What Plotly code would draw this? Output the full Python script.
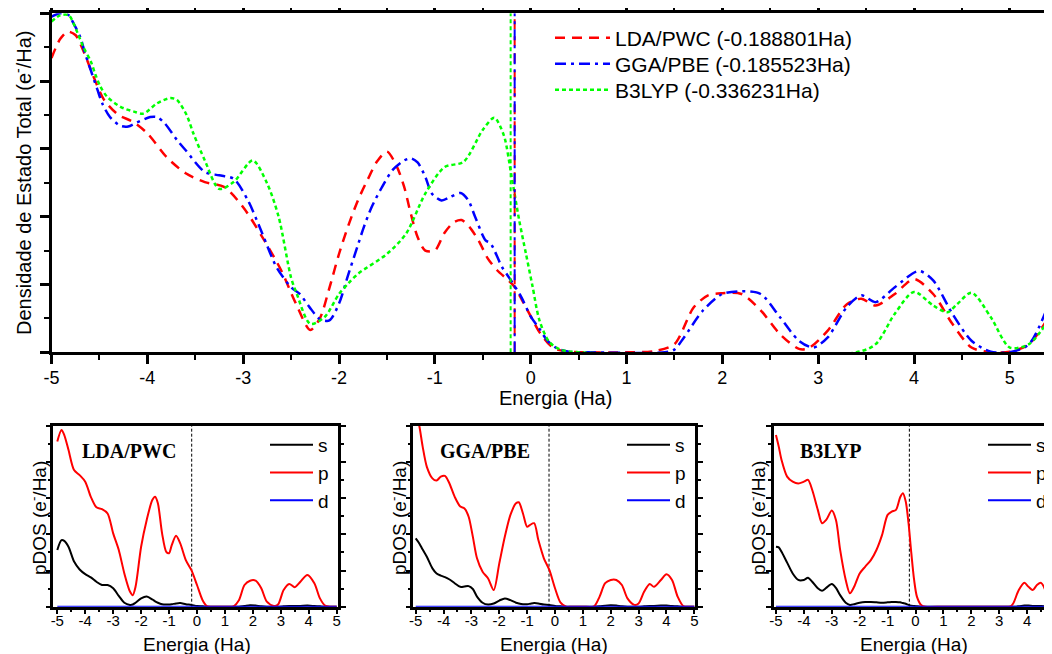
import plotly.graph_objects as go

# page offset of the figure inside the browser body (default body margin)
OFF = 8
PAGE_W, PAGE_H = 1052, 654
W, H = PAGE_W - OFF, PAGE_H - OFF

# ---------------- main plot: total DOS ----------------
E_LDA = [-5.0, -4.91, -4.83, -4.75, -4.66, -4.56, -4.45, -4.3, -4.15, -4.0, -3.8, -3.6, -3.4, -3.2,
         -3.0, -2.8, -2.6, -2.45, -2.3, -2.2, -2.1, -2.0, -1.9, -1.8, -1.7, -1.6, -1.5, -1.4, -1.32,
         -1.25, -1.18, -1.1, -1.0, -0.9, -0.8, -0.72, -0.64, -0.54, -0.45, -0.35, -0.24, -0.17, -0.09,
         0.02, 0.1, 0.24, 0.4, 0.6, 1.0, 1.3, 1.5, 1.7, 1.85, 2.0, 2.2, 2.4, 2.6, 2.8, 2.9, 3.1, 3.3,
         3.45, 3.6, 3.8, 4.0, 4.2, 4.4, 4.6, 4.8, 5.0, 5.2, 5.44]
DOS_LDA = [4.34, 4.62, 4.73, 4.68, 4.42, 4.06, 3.72, 3.50, 3.40, 3.23, 2.88, 2.64, 2.51, 2.44,
           2.14, 1.70, 1.20, 0.72, 0.33, 0.50, 0.95, 1.45, 1.88, 2.25, 2.55, 2.82, 2.96, 2.75, 2.44,
           2.04, 1.70, 1.50, 1.50, 1.76, 1.92, 1.95, 1.85, 1.64, 1.39, 1.21, 1.07, 0.97, 0.77,
           0.48, 0.28, 0.06, 0.01, 0.0, 0.0, 0.02, 0.12, 0.66, 0.84, 0.87, 0.86, 0.62, 0.27, 0.05, 0.06,
           0.32, 0.71, 0.79, 0.69, 0.86, 1.08, 0.86, 0.42, 0.07, 0.0, 0.01, 0.12, 0.60]

E_GGA = [-5.0, -4.91, -4.82, -4.77, -4.70, -4.65, -4.59, -4.52, -4.47, -4.39, -4.28, -4.2, -4.11,
         -3.97, -3.9, -3.82, -3.69, -3.6, -3.4, -3.25, -3.1, -2.95, -2.8, -2.65, -2.5, -2.41, -2.31,
         -2.2, -2.1, -2.0, -1.9, -1.81, -1.74, -1.66, -1.55, -1.44, -1.32, -1.25, -1.18, -1.1, -1.03,
         -0.93, -0.84, -0.73, -0.65, -0.58, -0.47, -0.42, -0.3, -0.21, -0.1, 0.0, 0.09, 0.17, 0.27,
         0.4, 0.6, 1.4, 1.5, 1.6, 1.8, 2.0, 2.2, 2.4, 2.6, 2.8, 2.95, 3.1, 3.3, 3.45, 3.6, 3.8, 4.05,
         4.2, 4.4, 4.6, 4.8, 5.0, 5.2, 5.44]
DOS_GGA = [4.95, 5.0, 4.97, 4.85, 4.65, 4.41, 4.16, 3.87, 3.67, 3.47, 3.34, 3.33, 3.39,
           3.47, 3.47, 3.38, 3.13, 2.98, 2.66, 2.61, 2.56, 2.24, 1.75, 1.25, 0.96, 0.86, 0.67,
           0.49, 0.47, 0.72, 1.16, 1.55, 1.85, 2.14, 2.44, 2.69, 2.83, 2.86, 2.80, 2.59, 2.34,
           2.24, 2.29, 2.35, 2.24, 2.0, 1.65, 1.61, 1.26, 1.07, 0.82, 0.53, 0.35, 0.18, 0.06,
           0.01, 0.0, 0.0, 0.04, 0.22, 0.62, 0.86, 0.90, 0.86, 0.52, 0.17, 0.07, 0.22, 0.67, 0.84,
           0.74, 0.96, 1.20, 1.06, 0.57, 0.17, 0.01, 0.0, 0.12, 0.84]

E_B3LYP = [-5.0, -4.91, -4.82, -4.74, -4.67, -4.59, -4.54, -4.49, -4.42, -4.28, -4.14, -4.04, -3.9,
           -3.76, -3.69, -3.59, -3.52, -3.4, -3.25, -3.1, -2.9, -2.75, -2.63, -2.5, -2.44, -2.3,
           -2.15, -2.0, -1.9, -1.8, -1.5, -1.3, -1.1, -0.9, -0.7, -0.5, -0.38, -0.28, -0.2, -0.12,
           -0.05, 0.02, 0.09, 0.19, 0.31, 0.5, 3.4, 3.6, 3.8, 4.0, 4.2, 4.35, 4.45, 4.6, 4.8, 5.0,
           5.2, 5.44]
DOS_B3LYP = [4.88, 4.97, 4.97, 4.75, 4.51, 4.29, 4.09, 3.92, 3.77, 3.62, 3.55, 3.52, 3.67,
             3.75, 3.72, 3.50, 3.23, 2.83, 2.41, 2.51, 2.83, 2.49, 2.0, 1.1, 0.86, 0.42,
             0.52, 0.86, 1.02, 1.16, 1.45, 1.75, 2.34, 2.73, 2.81, 3.28, 3.46, 3.2, 2.6, 1.95,
             1.46, 0.97, 0.48, 0.16, 0.04, 0.0, 0.0, 0.12, 0.57, 0.89, 0.69, 0.59, 0.71, 0.88, 0.52,
             0.07, 0.12, 0.55]

FERMI_MAIN = {"LDA": -0.167, "GGA": -0.167, "B3LYP": -0.209}
LEGEND_MAIN = ["LDA/PWC (-0.188801Ha)", "GGA/PBE (-0.185523Ha)", "B3LYP (-0.336231Ha)"]

# ---------------- bottom panels: projected DOS ----------------
E1 = [-5.0, -4.85, -4.75, -4.6, -4.4, -4.2, -4.0, -3.8, -3.6, -3.4, -3.2, -3.0, -2.8, -2.6, -2.4,
      -2.3, -2.2, -2.0, -1.8, -1.6, -1.5, -1.4, -1.25, -1.1, -1.0, -0.9, -0.75, -0.6, -0.4, -0.2,
      0.0, 0.2, 0.35, 0.5, 1.0, 1.3, 1.5, 1.7, 1.9, 2.1, 2.3, 2.5, 2.75, 2.9, 3.1, 3.3, 3.5, 3.7,
      3.95, 4.2, 4.4, 4.6, 4.8, 5.0]
P1 = [4.57, 4.89, 4.75, 4.34, 3.78, 3.64, 3.46, 3.04, 2.75, 2.70, 2.58, 2.03, 1.57, 0.92, 0.42,
      0.32, 0.55, 1.66, 2.40, 2.95, 3.04, 2.86, 2.03, 1.52, 1.48, 1.71, 1.96, 1.75, 1.29, 1.01,
      0.60, 0.18, 0.02, 0.0, 0.0, 0.01, 0.18, 0.60, 0.72, 0.72, 0.51, 0.14, 0.02, 0.06, 0.46, 0.63,
      0.54, 0.69, 0.88, 0.65, 0.23, 0.02, 0.0, 0.0]
S1 = [1.57, 1.84, 1.82, 1.66, 1.25, 1.03, 0.90, 0.81, 0.69, 0.60, 0.60, 0.51, 0.30, 0.11, 0.05,
      0.06, 0.11, 0.23, 0.28, 0.20, 0.15, 0.11, 0.07, 0.06, 0.06, 0.07, 0.09, 0.10, 0.07, 0.05,
      0.02, 0.01, 0.0, 0.0, 0.0, 0.0, 0.0, 0.02, 0.04, 0.03, 0.01, 0.0, 0.0, 0.0, 0.01, 0.02,
      0.02, 0.02, 0.03, 0.02, 0.01, 0.0, 0.0, 0.0]

E2 = [-5.0, -4.87, -4.75, -4.6, -4.4, -4.25, -4.1, -3.95, -3.8, -3.6, -3.4, -3.25, -3.1, -2.95,
      -2.8, -2.6, -2.4, -2.2, -2.0, -1.8, -1.6, -1.4, -1.3, -1.15, -1.0, -0.9, -0.75, -0.6, -0.4,
      -0.2, 0.0, 0.2, 0.4, 0.6, 1.0, 1.4, 1.6, 1.8, 2.0, 2.2, 2.4, 2.6, 2.85, 3.0, 3.2, 3.4, 3.55,
      3.8, 4.0, 4.2, 4.4, 4.6, 4.8, 5.0]
P2 = [5.4, 5.0, 4.43, 3.87, 3.55, 3.49, 3.60, 3.62, 3.43, 3.04, 2.77, 2.72, 2.49, 1.94,
      1.34, 0.97, 0.78, 0.46, 1.20, 1.94, 2.54, 2.86, 2.89, 2.58, 2.21, 2.26, 2.31, 1.85, 1.34,
      1.01, 0.51, 0.11, 0.0, 0.0, 0.0, 0.01, 0.28, 0.65, 0.74, 0.74, 0.60, 0.23, 0.05, 0.09, 0.42,
      0.63, 0.55, 0.74, 0.90, 0.74, 0.28, 0.02, 0.0, 0.0]
S2 = [1.89, 1.75, 1.58, 1.38, 1.06, 0.92, 0.86, 0.82, 0.76, 0.65, 0.55, 0.56, 0.57, 0.49,
      0.28, 0.11, 0.06, 0.09, 0.17, 0.23, 0.18, 0.11, 0.09, 0.07, 0.07, 0.08, 0.10, 0.09, 0.06,
      0.05, 0.02, 0.01, 0.0, 0.0, 0.0, 0.0, 0.01, 0.03, 0.04, 0.03, 0.01, 0.0, 0.0, 0.0, 0.01,
      0.02, 0.02, 0.03, 0.03, 0.02, 0.01, 0.0, 0.0, 0.0]

E3 = [-5.0, -4.9, -4.8, -4.6, -4.4, -4.2, -4.0, -3.85, -3.7, -3.5, -3.35, -3.2, -3.0, -2.85, -2.7,
      -2.5, -2.35, -2.2, -2.0, -1.8, -1.6, -1.4, -1.2, -1.0, -0.85, -0.7, -0.55, -0.45, -0.35,
      -0.25, -0.15, -0.05, 0.05, 0.2, 0.35, 1.0, 2.0, 3.0, 3.4, 3.5, 3.7, 3.9, 4.05, 4.2, 4.35,
      4.5, 4.65, 4.8, 4.9]
P3 = [4.75, 4.43, 4.06, 3.60, 3.46, 3.41, 3.46, 3.51, 3.23, 2.68, 2.31, 2.40, 2.66, 2.40, 1.57,
      0.74, 0.37, 0.55, 0.92, 1.11, 1.29, 1.57, 1.98, 2.54, 2.63, 2.68, 3.03, 3.14, 2.91,
      2.31, 1.48, 0.74, 0.28, 0.05, 0.0, 0.0, 0.0, 0.0, 0.01, 0.09, 0.46, 0.66, 0.55, 0.46, 0.60,
      0.66, 0.46, 0.14, 0.05]
S3 = [1.66, 1.64, 1.52, 1.22, 0.92, 0.74, 0.74, 0.80, 0.69, 0.51, 0.44, 0.52, 0.63, 0.52, 0.32,
      0.11, 0.05, 0.07, 0.11, 0.13, 0.13, 0.12, 0.11, 0.12, 0.13, 0.13, 0.12, 0.10, 0.08,
      0.05, 0.03, 0.02, 0.01, 0.0, 0.0, 0.0, 0.0, 0.0, 0.0, 0.0, 0.01, 0.03, 0.03, 0.02, 0.02,
      0.02, 0.01, 0.0, 0.0]

E_D = [-5.0, 0.0, 5.0]
D_ALL = [0.0, 0.0, 0.0]

FERMI_PANEL = [-0.19, -0.215, -0.22]
PANEL_NAMES = ["LDA/PWC", "GGA/PBE", "B3LYP"]
ORBITALS = ["s", "p", "d"]
X_TICKS = [-5, -4, -3, -2, -1, 0, 1, 2, 3, 4, 5]
X_TICK_LABELS = ["-5", "-4", "-3", "-2", "-1", "0", "1", "2", "3", "4", "5"]

FONT = "Liberation Sans, Arial, sans-serif"
SERIF = "Liberation Serif, Times New Roman, serif"


def px_x(p):
    return (p - OFF) / W


def px_y(p):
    return 1 - (p - OFF) / H


fig = go.Figure()

main_series = [
    (E_LDA, DOS_LDA, "#ff0000", "10px,7px", LEGEND_MAIN[0], "LDA", "legend"),
    (E_GGA, DOS_GGA, "#0000ff", "11px,5px,3px,5px", LEGEND_MAIN[1], "GGA", "legend5"),
    (E_B3LYP, DOS_B3LYP, "#00ff00", "4px,3px", LEGEND_MAIN[2], "B3LYP", "legend6"),
]
for ex, ey, col, dash, name, key, lg in main_series:
    fig.add_trace(go.Scatter(x=ex, y=ey, mode="lines", name=name,
                             line=dict(color=col, width=2.5, dash=dash, shape="spline", smoothing=0.8),
                             xaxis="x", yaxis="y", legend=lg))
for ex, ey, col, dash, name, key, lg in main_series:
    ef = FERMI_MAIN[key]
    fig.add_trace(go.Scatter(x=[ef, ef], y=[0, 5], mode="lines", showlegend=False,
                             line=dict(color=col, width=2, dash=dash),
                             xaxis="x", yaxis="y"))

panels = [(E1, S1, P1), (E2, S2, P2), (E3, S3, P3)]
for i, (ex, s, p) in enumerate(panels):
    ax = str(i + 2)
    lg = "legend" + ax
    fig.add_trace(go.Scatter(x=[FERMI_PANEL[i], FERMI_PANEL[i]], y=[0, 5], mode="lines",
                             showlegend=False, line=dict(color="black", width=1, dash="3px,2px"),
                             xaxis="x" + ax, yaxis="y" + ax))
    fig.add_trace(go.Scatter(x=ex, y=s, mode="lines", name=ORBITALS[0],
                             line=dict(color="black", width=2, shape="spline", smoothing=0.8),
                             xaxis="x" + ax, yaxis="y" + ax, legend=lg))
    fig.add_trace(go.Scatter(x=ex, y=p, mode="lines", name=ORBITALS[1],
                             line=dict(color="#ff0000", width=2, shape="spline", smoothing=0.8),
                             xaxis="x" + ax, yaxis="y" + ax, legend=lg))
    fig.add_trace(go.Scatter(x=E_D, y=D_ALL, mode="lines", name=ORBITALS[2],
                             line=dict(color="#0000ff", width=2),
                             xaxis="x" + ax, yaxis="y" + ax, legend=lg))

main_legend_style = dict(xanchor="left", yanchor="middle", font=dict(size=21, family=FONT),
                         bgcolor="rgba(0,0,0,0)", itemwidth=55, tracegroupgap=0)

layout = dict(
    width=W, height=H,
    margin=dict(l=0, r=0, t=0, b=0, autoexpand=False),
    paper_bgcolor="white", plot_bgcolor="white",
    font=dict(family=FONT, color="black"),
    xaxis=dict(domain=[px_x(51.5), 1.0], range=[-5, 5.44], tickvals=X_TICKS, ticktext=X_TICK_LABELS,
               ticks="outside", ticklen=9, tickwidth=2.5, tickcolor="black",
               minor=dict(dtick=0.5, tick0=0, ticks="outside", ticklen=5, tickwidth=2, tickcolor="black"),
               showline=True, linewidth=3, linecolor="black", mirror="allticks",
               showgrid=False, zeroline=False, tickfont=dict(size=18), ticklabelstandoff=-2,
               anchor="y", automargin=False),
    yaxis=dict(domain=[px_y(352.3), px_y(13.3)], range=[0, 5], tickvals=[0, 1, 2, 3, 4, 5],
               showticklabels=False, ticks="outside", ticklen=9, tickwidth=2.5, tickcolor="black",
               minor=dict(dtick=0.5, tick0=0, ticks="outside", ticklen=5, tickwidth=2, tickcolor="black"),
               showline=True, linewidth=3, linecolor="black",
               showgrid=False, zeroline=False, anchor="x", automargin=False),
    legend=dict(x=px_x(550), y=px_y(38), **main_legend_style),
    legend5=dict(x=px_x(550), y=px_y(64), **main_legend_style),
    legend6=dict(x=px_x(550), y=px_y(90), **main_legend_style),
)

panel_frames = [(53.3, 338.3, -5.143, 5.057), (413.3, 695.0, -5.086, 5.024), (774.0, PAGE_W, -5.07, 4.89)]
legend_x = [265, 622, 983]
ytitle_x = [38, 398, 757]
xtitle_x = [197, 554, 914]
label_x = [80, 438, 798]

annotations = [
    dict(text="Densidade de Estado Total (e<sup>-</sup>/Ha)", x=px_x(22), y=px_y(183),
         xref="paper", yref="paper", showarrow=False, textangle=-90,
         xanchor="center", yanchor="middle", font=dict(size=20, family=FONT)),
    dict(text="Energia (Ha)", x=px_x(555), y=px_y(398), xref="paper", yref="paper",
         xanchor="center", yanchor="middle", showarrow=False, font=dict(size=20, family=FONT)),
]

for i, (l, r, x0, x1) in enumerate(panel_frames):
    ax = str(i + 2)
    layout["xaxis" + ax] = dict(domain=[px_x(l), min(1.0, px_x(r))], range=[x0, x1],
                                tickvals=X_TICKS, ticktext=X_TICK_LABELS,
                                ticks="outside", ticklen=5, tickwidth=2, tickcolor="black",
                                minor=dict(dtick=0.5, tick0=0, ticks="outside", ticklen=3, tickwidth=1.5,
                                           tickcolor="black"),
                                showline=True, linewidth=2.5, linecolor="black", mirror=True,
                                showgrid=False, zeroline=False, tickfont=dict(size=15),
                                ticklabelstandoff=-6, anchor="y" + ax, automargin=False)
    layout["yaxis" + ax] = dict(domain=[px_y(606.7), px_y(426)], range=[0, 5], tickvals=[0, 1, 2, 3, 4, 5],
                                showticklabels=False, ticks="outside", ticklen=5, tickwidth=2,
                                tickcolor="black",
                                minor=dict(dtick=0.5, tick0=0, ticks="outside", ticklen=3, tickwidth=1.5,
                                           tickcolor="black"),
                                showline=True, linewidth=2.5, linecolor="black", mirror="allticks",
                                showgrid=False, zeroline=False, anchor="x" + ax, automargin=False)
    layout["legend" + ax] = dict(x=px_x(legend_x[i]), y=px_y(426), xanchor="left", yanchor="top",
                                 font=dict(size=19, family=FONT), bgcolor="rgba(0,0,0,0)",
                                 itemwidth=43, tracegroupgap=0)
    annotations.append(dict(text="pDOS (e<sup>-</sup>/Ha)", x=px_x(ytitle_x[i]), y=px_y(518),
                            xref="paper", yref="paper", showarrow=False, textangle=-90,
                            xanchor="center", yanchor="middle", font=dict(size=19, family=FONT)))
    annotations.append(dict(text="Energia (Ha)", x=px_x(xtitle_x[i]), y=px_y(644),
                            xref="paper", yref="paper", showarrow=False,
                            xanchor="center", yanchor="middle", font=dict(size=19, family=FONT)))
    annotations.append(dict(text="<b>" + PANEL_NAMES[i] + "</b>", x=px_x(label_x[i]), y=px_y(451),
                            xref="paper", yref="paper", showarrow=False, xanchor="left",
                            yanchor="middle", font=dict(size=20, family=SERIF)))

layout["annotations"] = annotations
fig.update_layout(**layout)
fig.write_html("out.html")
